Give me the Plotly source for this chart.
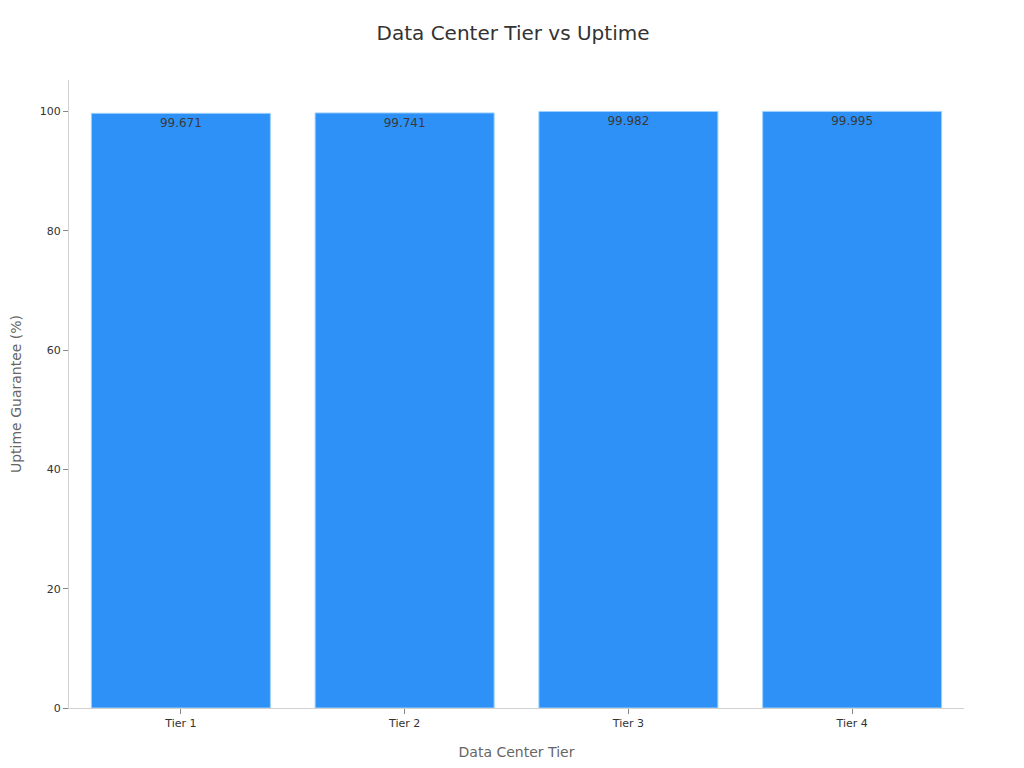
import plotly.graph_objects as go

# Data
tiers = ['Tier 1', 'Tier 2', 'Tier 3', 'Tier 4']
uptime = [99.671, 99.741, 99.982, 99.995]

fig = go.Figure()
fig.add_trace(go.Bar(
    x=tiers, y=uptime,
    text=[str(v) for v in uptime],
    textposition='inside', insidetextanchor='end',
    textfont=dict(color='#3a3a3a', size=12),
    marker=dict(color='#2E91F8', line=dict(color='#9fd0ff', width=1)),
))

fig.update_layout(
    title=dict(text='Data Center Tier vs Uptime', x=0.5, xanchor='center',
               yref='container', y=0.967, yanchor='middle',
               font=dict(size=20, color='#333333')),
    font=dict(family='DejaVu Sans', color='#333333'),
    plot_bgcolor='white', paper_bgcolor='white',
    width=1010, height=754,
    margin=dict(l=61, r=54, t=72, b=54),
    bargap=0.2,
    showlegend=False,
)
fig.update_xaxes(title=dict(text='Data Center Tier', font=dict(size=14, color='#666666'), standoff=17),
                 automargin=False,
                 showline=True, linecolor='#d0d0d0', ticks='outside', tickcolor='#888888',
                 ticklen=5, tickfont=dict(size=11, color='#333333'))
fig.update_yaxes(title=dict(text='Uptime Guarantee (%)', font=dict(size=14, color='#666666'), standoff=17),
                 automargin=False,
                 showline=True, linecolor='#d0d0d0', ticks='outside', tickcolor='#888888',
                 ticklen=5, showgrid=False, zeroline=False, tickfont=dict(size=11, color='#333333'))

fig.write_html("out.html")
